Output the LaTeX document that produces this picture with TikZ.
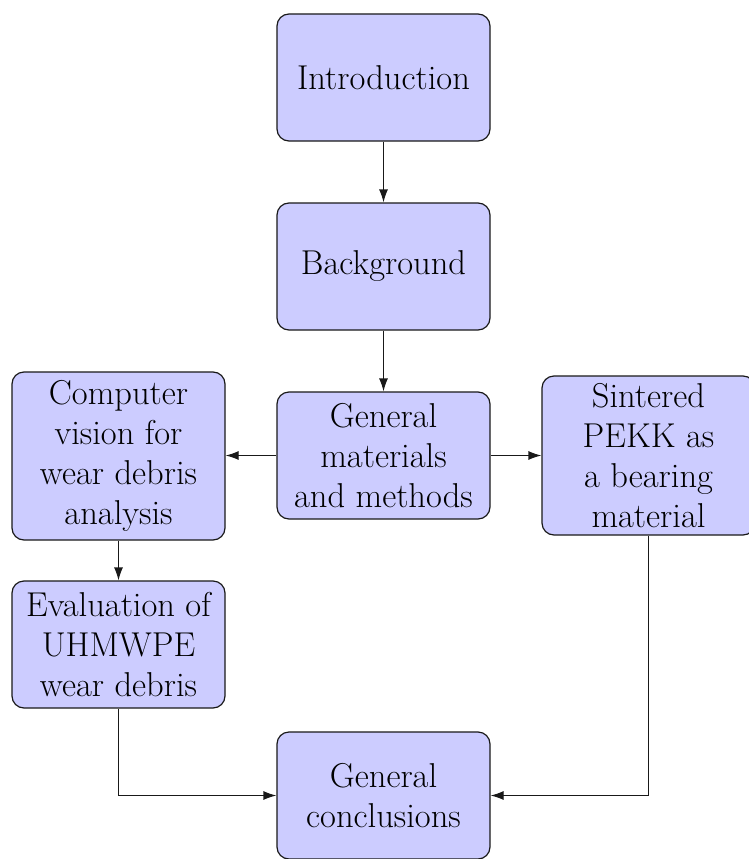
\documentclass[tikz,border=0pt]{standalone}
\usetikzlibrary{arrows.meta}
\begin{document}
\begin{tikzpicture}[x=1pt,y=-1pt,
  box/.style={draw=black!90, line width=1.2pt, fill=blue!20, rounded corners=12pt,
    minimum width=213pt, minimum height=127pt, inner sep=0pt, align=center,
    font=\fontsize{34.5}{40}\selectfont},
  conn/.style={line width=1.2pt, draw=black!90, -{Latex[length=13pt,width=9pt]}}]
\useasboundingbox (0,0) rectangle (748,859);
\node[box] (intro) at (383.5,77.5) {Introduction};
\node[box] (bg) at (383.5,266.5) {Background};
\node[box] (gen) at (383.5,455.5) {General\\materials\\and methods};
\node[box, minimum height=168pt] (cv) at (118.5,456) {Computer\\vision for\\wear debris\\analysis};
\node[box, minimum height=159pt] (pekk) at (648.5,455.5) {Sintered\\PEKK as\\a bearing\\material};
\node[box] (eval) at (118.5,644.5) {Evaluation of\\UHMWPE\\wear debris};
\node[box] (concl) at (383.5,795.5) {General\\conclusions};
\draw[conn] (intro) -- (bg);
\draw[conn] (bg) -- (gen);
\draw[conn] (gen.west) -- (cv.east |- gen.west);
\draw[conn] (gen.east) -- (pekk.west |- gen.east);
\draw[conn] (cv) -- (eval);
\draw[conn] (eval.south) |- (concl.west);
\draw[conn] (pekk.south) |- (concl.east);
\end{tikzpicture}
\end{document}
